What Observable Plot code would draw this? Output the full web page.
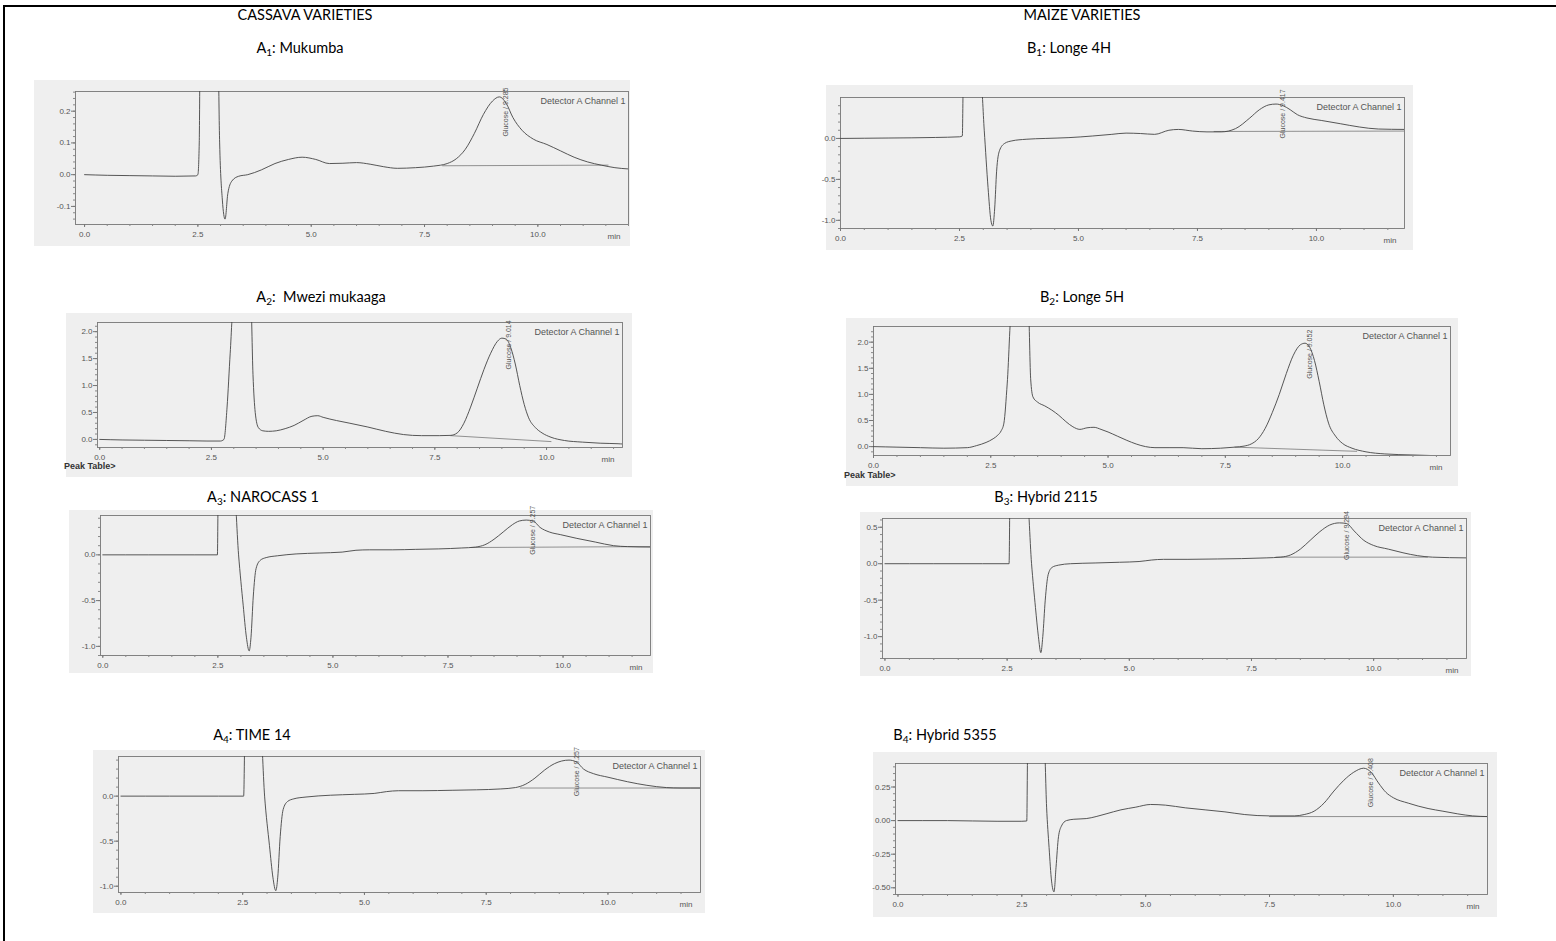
<!DOCTYPE html>
<html><head><meta charset="utf-8">
<script src="https://cdn.jsdelivr.net/npm/d3@7"></script>
<script src="https://cdn.jsdelivr.net/npm/@observablehq/plot@0.6"></script>
<style>
body{margin:0;background:#fff;width:1556px;height:941px;overflow:hidden;position:relative;font-family:Lato,"Open Sans",sans-serif;}
#box{position:absolute;left:3px;top:5px;width:1600px;height:1000px;border-left:2px solid #000;border-top:2px solid #000;}
.t{position:absolute;font-size:14.5px;color:#000;white-space:nowrap;transform:translateX(-50%);line-height:1;}
.t sub{font-size:10px;vertical-align:-3px;line-height:0}
.panel{position:absolute;background:#efefef;}
.panel svg{overflow:visible;display:block}
.pt{position:absolute;font:bold 9px "Liberation Sans",Arial,sans-serif;color:#333;white-space:nowrap}
</style></head>
<body>
<div id="box"></div>
<div id="root"></div>
<script>
// ---------- titles ----------
const groupTitles = ["CASSAVA VARIETIES", "MAIZE VARIETIES"];
const panelCodes = ["A", "1", "B", "1", "A", "2", "B", "2", "A", "3", "B", "3", "A", "4", "B", "4"];
const panelNames = ["Mukumba", "Longe 4H", "\u00a0Mwezi mukaaga", "Longe 5H", "NAROCASS 1", "Hybrid 2115", "TIME 14", "Hybrid 5355"];
const glucoseLabels = ["Glucose / 9.285", "Glucose / 9.417", "Glucose / 9.014", "Glucose / 9.052", "Glucose / 9.257", "Glucose / 9.294", "Glucose / 9.257", "Glucose / 9.408"];
const detectorLabel = "Detector A Channel 1";
const peakTableLabel = "Peak Table>";
const xTickValues = [0, 2.5, 5, 7.5, 10];

// ---------- chromatogram traces (time in min, signal) ----------
const a1Time = [0, 0.5, 1.0, 1.5, 2.0, 2.45, 2.5, 2.53, 2.56, 2.92, 2.98, 3.04, 3.1, 3.16, 3.25, 3.4, 3.6, 3.9, 4.2, 4.5, 4.8, 5.1, 5.4, 5.7, 6.0, 6.3, 6.6, 6.9, 7.3, 7.7, 8.0, 8.2, 8.4, 8.6, 8.8, 9.0, 9.15, 9.3, 9.45, 9.65, 9.9, 10.2, 10.5, 10.8, 11.1, 11.4, 11.7, 12.0];
const a1Signal = [0.0, -0.002, -0.003, -0.004, -0.005, -0.004, 0.0, 0.1, 0.6, 0.6, 0.1, -0.08, -0.14, -0.06, -0.02, -0.005, 0.0, 0.015, 0.035, 0.048, 0.055, 0.048, 0.035, 0.036, 0.038, 0.033, 0.025, 0.02, 0.022, 0.027, 0.035, 0.05, 0.08, 0.13, 0.19, 0.232, 0.245, 0.225, 0.18, 0.14, 0.112, 0.095, 0.075, 0.055, 0.04, 0.03, 0.022, 0.018];
const a1Base = [[7.9, 0.028], [11.55, 0.03]];

const b1Time = [0, 1, 2, 2.5, 2.56, 2.58, 2.95, 3.02, 3.1, 3.16, 3.2, 3.24, 3.28, 3.34, 3.45, 3.6, 3.9, 4.3, 4.8, 5.3, 5.7, 6.0, 6.3, 6.6, 6.9, 7.1, 7.4, 7.7, 8.0, 8.3, 8.6, 8.8, 9.0, 9.15, 9.3, 9.45, 9.6, 9.8, 10.1, 10.5, 10.9, 11.3, 11.85];
const b1Signal = [0.0, 0.005, 0.012, 0.02, 0.03, 0.7, 0.7, 0.1, -0.6, -1.0, -1.07, -0.85, -0.4, -0.15, -0.06, -0.03, -0.01, 0.0, 0.01, 0.03, 0.05, 0.065, 0.06, 0.05, 0.1, 0.11, 0.09, 0.08, 0.08, 0.12, 0.25, 0.35, 0.41, 0.42, 0.4, 0.35, 0.29, 0.25, 0.22, 0.18, 0.14, 0.115, 0.11];
const b1Base = [[7.85, 0.085], [11.85, 0.09]];

const a2Time = [0, 0.5, 1, 1.5, 2, 2.4, 2.7, 2.78, 2.85, 2.92, 3.0, 3.38, 3.43, 3.48, 3.55, 3.65, 3.78, 3.95, 4.15, 4.35, 4.55, 4.75, 4.88, 5.0, 5.3, 5.6, 6.0, 6.4, 6.8, 7.2, 7.6, 7.85, 8.0, 8.15, 8.3, 8.45, 8.6, 8.75, 8.9, 9.0, 9.1, 9.2, 9.3, 9.4, 9.5, 9.6, 9.75, 9.9, 10.1, 10.4, 10.8, 11.2, 11.6, 11.7];
const a2Signal = [0.0, -0.01, -0.015, -0.02, -0.025, -0.03, -0.03, 0.0, 0.6, 1.6, 2.6, 2.6, 1.2, 0.5, 0.22, 0.16, 0.15, 0.16, 0.2, 0.26, 0.35, 0.43, 0.44, 0.41, 0.35, 0.3, 0.23, 0.15, 0.09, 0.07, 0.07, 0.075, 0.12, 0.3, 0.6, 0.95, 1.3, 1.6, 1.82, 1.88, 1.86, 1.7, 1.4, 1.0, 0.65, 0.4, 0.22, 0.12, 0.04, -0.02, -0.05, -0.07, -0.08, -0.085];
const a2Base = [[7.85, 0.07], [10.1, -0.04]];

const b2Time = [0, 0.5, 1, 1.5, 2.0, 2.2, 2.4, 2.55, 2.65, 2.72, 2.78, 2.85, 2.95, 3.3, 3.35, 3.4, 3.5, 3.65, 3.8, 3.95, 4.1, 4.25, 4.4, 4.55, 4.7, 4.85, 5.0, 5.2, 5.4, 5.6, 5.8, 6.0, 6.3, 6.6, 7.0, 7.4, 7.7, 7.9, 8.05, 8.2, 8.35, 8.5, 8.65, 8.8, 8.95, 9.1, 9.2, 9.3, 9.4, 9.5, 9.6, 9.7, 9.85, 10.0, 10.2, 10.5, 10.9, 11.5, 12.3];
const b2Signal = [0.0, -0.01, -0.02, -0.03, -0.02, 0.02, 0.08, 0.15, 0.22, 0.3, 0.45, 1.2, 2.7, 2.7, 1.3, 0.95, 0.85, 0.78, 0.7, 0.6, 0.48, 0.38, 0.33, 0.36, 0.37, 0.33, 0.28, 0.2, 0.12, 0.05, 0.0, -0.02, -0.02, -0.02, -0.04, -0.03, -0.01, 0.01, 0.05, 0.15, 0.35, 0.65, 1.0, 1.4, 1.75, 1.95, 1.98, 1.9, 1.65, 1.25, 0.8, 0.45, 0.2, 0.06, -0.03, -0.1, -0.14, -0.16, -0.18];
const b2Base = [[7.7, -0.01], [10.3, -0.09]];

const a3Time = [0, 1, 2, 2.49, 2.51, 2.84, 2.95, 3.05, 3.12, 3.18, 3.22, 3.27, 3.33, 3.42, 3.55, 3.8, 4.2, 4.7, 5.2, 5.5, 5.8, 6.3, 6.8, 7.3, 7.8, 8.1, 8.3, 8.5, 8.7, 8.9, 9.05, 9.2, 9.35, 9.5, 9.7, 9.95, 10.3, 10.7, 11.1, 11.4, 11.9];
const a3Signal = [0.0, 0.0, 0.0, 0.0, 0.8, 0.8, 0.0, -0.55, -0.9, -1.05, -0.9, -0.45, -0.15, -0.06, -0.03, -0.01, 0.01, 0.02, 0.03, 0.05, 0.055, 0.055, 0.06, 0.065, 0.075, 0.085, 0.11, 0.17, 0.25, 0.33, 0.37, 0.38, 0.37, 0.3, 0.25, 0.22, 0.18, 0.14, 0.1, 0.09, 0.085];
const a3Base = [[8.0, 0.08], [11.9, 0.09]];

const b3Time = [0, 1, 2, 2.54, 2.56, 2.9, 3.0, 3.08, 3.14, 3.19, 3.23, 3.28, 3.34, 3.42, 3.55, 3.8, 4.3, 4.8, 5.2, 5.45, 5.7, 6.2, 6.8, 7.3, 7.8, 8.1, 8.3, 8.5, 8.7, 8.9, 9.1, 9.3, 9.45, 9.6, 9.8, 10.0, 10.3, 10.6, 10.9, 11.2, 11.9];
const b3Signal = [0.0, 0.0, 0.0, 0.0, 1.0, 1.0, 0.0, -0.6, -1.0, -1.22, -1.0, -0.5, -0.15, -0.05, -0.02, 0.0, 0.01, 0.02, 0.03, 0.05, 0.06, 0.06, 0.065, 0.07, 0.08, 0.09, 0.12, 0.2, 0.32, 0.44, 0.53, 0.56, 0.55, 0.45, 0.32, 0.25, 0.2, 0.15, 0.11, 0.09, 0.08];
const b3Base = [[8.0, 0.09], [11.1, 0.09]];

const a4Time = [0, 1, 2, 2.52, 2.55, 2.86, 2.95, 3.05, 3.12, 3.18, 3.22, 3.27, 3.33, 3.42, 3.55, 3.8, 4.3, 4.8, 5.2, 5.45, 5.7, 6.2, 6.8, 7.3, 7.8, 8.1, 8.3, 8.5, 8.7, 8.9, 9.05, 9.2, 9.35, 9.5, 9.7, 10.0, 10.4, 10.8, 11.2, 11.5, 11.9];
const a4Signal = [0.0, 0.0, 0.0, 0.0, 0.8, 0.8, 0.0, -0.55, -0.9, -1.05, -0.9, -0.45, -0.15, -0.06, -0.03, -0.01, 0.01, 0.02, 0.03, 0.05, 0.06, 0.06, 0.065, 0.07, 0.08, 0.095, 0.13, 0.2, 0.29, 0.36, 0.39, 0.4, 0.38, 0.3, 0.25, 0.21, 0.16, 0.12, 0.095, 0.09, 0.09];
const a4Base = [[8.2, 0.09], [11.9, 0.09]];

const b4Time = [0, 1, 2, 2.5, 2.6, 2.62, 2.95, 3.0, 3.05, 3.1, 3.15, 3.19, 3.24, 3.3, 3.4, 3.55, 3.8, 4.0, 4.2, 4.5, 4.8, 5.1, 5.4, 5.8, 6.2, 6.6, 7.0, 7.5, 8.0, 8.2, 8.4, 8.6, 8.8, 9.0, 9.2, 9.4, 9.55, 9.7, 9.85, 10.0, 10.3, 10.7, 11.0, 11.3, 11.6, 11.9];
const b4Signal = [0.0, 0.0, -0.005, -0.005, -0.003, 0.6, 0.6, 0.1, -0.2, -0.45, -0.53, -0.35, -0.12, -0.04, 0.0, 0.01, 0.015, 0.03, 0.05, 0.08, 0.1, 0.12, 0.115, 0.095, 0.08, 0.065, 0.045, 0.035, 0.035, 0.045, 0.07, 0.13, 0.22, 0.3, 0.36, 0.39, 0.36, 0.28, 0.21, 0.17, 0.13, 0.09, 0.07, 0.05, 0.035, 0.03];
const b4Base = [[7.5, 0.03], [11.9, 0.03]];

// ---------- axis ticks per panel ----------
const a1YTicks = [-0.1, 0.0, 0.1, 0.2];
const b1YTicks = [-1.0, -0.5, 0.0];
const a2YTicks = [0.0, 0.5, 1.0, 1.5, 2.0];
const b2YTicks = [0.0, 0.5, 1.0, 1.5, 2.0];
const a3YTicks = [-1.0, -0.5, 0.0];
const b3YTicks = [-1.0, -0.5, 0.0, 0.5];
const a4YTicks = [-1.0, -0.5, 0.0];
const b4YTicks = [-0.50, -0.25, 0.00, 0.25];

// ---------- layout (positions / sizes only) ----------
const layout = [
  {x: 34, y: 80, w: 596, h: 166, ml: 41, mr: 2, mt: 11, mb: 22, xd: [-0.2, 12], yd: [-0.157, 0.262], minor: 0.02, fmt: ".1f", gy: 0.12, titleX: 300, titleY: 41},
  {x: 826, y: 85, w: 587, h: 165, ml: 14, mr: 9, mt: 12, mb: 22, xd: [0, 11.85], yd: [-1.10, 0.5], minor: 0.1, fmt: ".1f", gy: 0.0, titleX: 1069, titleY: 41},
  {x: 66, y: 313, w: 566, h: 164, ml: 31, mr: 10, mt: 9, mb: 30, xd: [-0.05, 11.7], yd: [-0.15, 2.17], minor: 0.1, fmt: ".1f", gy: 1.3, titleX: 321, titleY: 290, peakTable: true},
  {x: 846, y: 318, w: 612, h: 168, ml: 27, mr: 8, mt: 8, mb: 31, xd: [0, 12.3], yd: [-0.17, 2.3], minor: 0.1, fmt: ".1f", gy: 1.3, titleX: 1082, titleY: 290, peakTable: true},
  {x: 69, y: 510, w: 584, h: 163, ml: 31, mr: 3, mt: 5, mb: 18, xd: [-0.05, 11.9], yd: [-1.10, 0.43], minor: 0.1, fmt: ".1f", gy: 0.0, titleX: 263, titleY: 490},
  {x: 860, y: 512, w: 611, h: 164, ml: 22, mr: 5, mt: 6, mb: 18, xd: [-0.05, 11.9], yd: [-1.30, 0.62], minor: 0.1, fmt: ".1f", gy: 0.05, titleX: 1046, titleY: 490},
  {x: 93, y: 750, w: 612, h: 163, ml: 25, mr: 5, mt: 6, mb: 21, xd: [-0.05, 11.9], yd: [-1.07, 0.44], minor: 0.1, fmt: ".1f", gy: 0.0, titleX: 252, titleY: 728},
  {x: 873, y: 752, w: 624, h: 165, ml: 22, mr: 10, mt: 11, mb: 23, xd: [-0.05, 11.9], yd: [-0.55, 0.425], minor: 0.05, fmt: ".2f", gy: 0.1, titleX: 945, titleY: 728}
];

const times = [a1Time, b1Time, a2Time, b2Time, a3Time, b3Time, a4Time, b4Time];
const signals = [a1Signal, b1Signal, a2Signal, b2Signal, a3Signal, b3Signal, a4Signal, b4Signal];
const bases = [a1Base, b1Base, a2Base, b2Base, a3Base, b3Base, a4Base, b4Base];
const yTicks = [a1YTicks, b1YTicks, a2YTicks, b2YTicks, a3YTicks, b3YTicks, a4YTicks, b4YTicks];
const peakTimes = [9.15, 9.15, 9.0, 9.15, 9.2, 9.3, 9.2, 9.4];

const root = document.getElementById("root");
function addText(txt, x, y, html) {
  const d = document.createElement("div");
  d.className = "t";
  d.style.left = x + "px"; d.style.top = y + "px";
  if (html) d.innerHTML = txt; else d.textContent = txt;
  root.appendChild(d);
}
addText(groupTitles[0], 305, 8);
addText(groupTitles[1], 1082, 8);

const xMinor = d3.range(0, 12.31, 0.5);

layout.forEach((L, i) => {
  addText(`${panelCodes[2*i]}<sub>${panelCodes[2*i+1]}</sub>: ${panelNames[i]}`, L.titleX, L.titleY, true);
  const trace = times[i].map((t, k) => ({t, v: signals[i][k]}));
  const base = bases[i].map(([t, v]) => ({t, v}));
  const yMin = Math.ceil(L.yd[0] / L.minor) * L.minor;
  const yMinor = d3.range(yMin, L.yd[1], L.minor);
  const f = d3.format(L.fmt);
  const fmt = v => f(v).replace("\u2212", "-");
  const chart = Plot.plot({
    width: L.w, height: L.h,
    marginLeft: L.ml, marginRight: L.mr, marginTop: L.mt, marginBottom: L.mb,
    x: {domain: L.xd, axis: null},
    y: {domain: L.yd, axis: null},
    style: {background: "transparent", fontFamily: "'Liberation Sans', Arial, sans-serif", fontSize: "8px", color: "#555"},
    marks: [
      Plot.frame({stroke: "#777", strokeWidth: 0.9}),
      Plot.axisY(yMinor, {tickSize: 2, tickFormat: () => "", stroke: "#888", label: null}),
      Plot.axisY(yTicks[i], {tickSize: 4, tickPadding: 1, tickFormat: fmt, stroke: "#777", fill: "#555", fontSize: 8, label: null}),
      Plot.axisX(xMinor.filter(v => v >= L.xd[0] && v <= L.xd[1]), {tickSize: 2, tickFormat: () => "", stroke: "#888", label: null}),
      Plot.axisX(xTickValues, {tickSize: 3, tickPadding: 4, tickFormat: d3.format(".1f"), stroke: "#777", fill: "#555", fontSize: 8, label: null}),
      Plot.text(["min"], {frameAnchor: "bottom-right", dx: -8, dy: 14, fill: "#555", fontSize: 8}),
      Plot.line(base, {x: "t", y: "v", stroke: "#777", strokeWidth: 0.8, clip: true}),
      Plot.line(trace, {x: "t", y: "v", stroke: "#444", strokeWidth: 0.9, curve: "monotone-x", clip: true}),
      Plot.text([detectorLabel], {frameAnchor: "top-right", textAnchor: "end", dx: -3, dy: 6, fill: "#555", fontSize: 9}),
      Plot.text([glucoseLabels[i]], {x: () => peakTimes[i] + 0.15, y: () => L.gy, rotate: -90, textAnchor: "start", fill: "#555", fontSize: 7})
    ]
  });
  const p = document.createElement("div");
  p.className = "panel";
  p.style.left = L.x + "px"; p.style.top = L.y + "px";
  p.style.width = L.w + "px"; p.style.height = L.h + "px";
  p.appendChild(chart);
  root.appendChild(p);
  if (L.peakTable) {
    const pt = document.createElement("div");
    pt.className = "pt";
    pt.style.left = (L.x - 2) + "px"; pt.style.top = (L.y + L.h - 16) + "px";
    pt.textContent = peakTableLabel;
    root.appendChild(pt);
  }
});
</script>
</body></html>
